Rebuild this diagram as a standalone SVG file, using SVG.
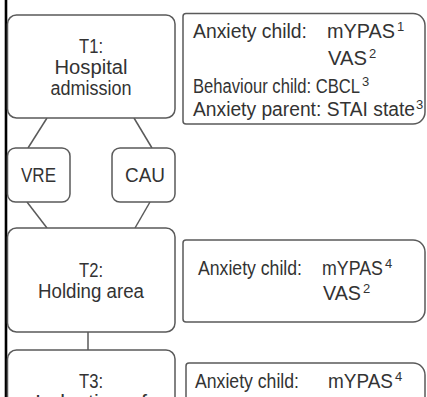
<svg xmlns="http://www.w3.org/2000/svg" width="427" height="397" viewBox="0 0 427 397">
<style>
.box{fill:#fff;stroke:#5a5a5a;stroke-width:1.5}
.ln{stroke:#5a5a5a;stroke-width:1.5;fill:none}
text{font-family:"Liberation Sans",Arial,sans-serif;fill:#333;font-size:20px}
.c{text-anchor:middle}
.sup{font-size:13px}
</style>
<rect x="0" y="0" width="427" height="397" fill="#fff"/>
<line x1="6" y1="0" x2="6" y2="397" stroke="#000" stroke-width="2.6"/>
<g id="connectors">
<line class="ln" x1="47" y1="118" x2="28" y2="148"/>
<line class="ln" x1="134" y1="118" x2="152" y2="148"/>
<line class="ln" x1="27" y1="202" x2="47" y2="228"/>
<line class="ln" x1="150" y1="202" x2="135" y2="228"/>
<line class="ln" x1="88" y1="332" x2="88" y2="350"/>
</g>
<g id="t1">
<rect class="box" x="7.5" y="15" width="167.5" height="103" rx="9"/>
<text class="c" x="91" y="53" textLength="24" lengthAdjust="spacingAndGlyphs">T1:</text>
<text class="c" x="91" y="74" textLength="73" lengthAdjust="spacingAndGlyphs">Hospital</text>
<text class="c" x="91" y="95" textLength="81" lengthAdjust="spacingAndGlyphs">admission</text>
</g>
<g id="m1">
<path class="box" d="M186,13.5 H413 A12,12 0 0 1 425,25.5 V112 A12,12 0 0 1 413,124 H186 A3,3 0 0 1 183,121 V16.5 A3,3 0 0 1 186,13.5 Z"/>
<text x="193" y="38" textLength="114" lengthAdjust="spacingAndGlyphs">Anxiety child:</text>
<text x="327" y="38"><tspan textLength="68" lengthAdjust="spacingAndGlyphs">mYPAS</tspan><tspan class="sup" dx="2" dy="-7">1</tspan></text>
<text x="328" y="65"><tspan textLength="39" lengthAdjust="spacingAndGlyphs">VAS</tspan><tspan class="sup" dx="2" dy="-7">2</tspan></text>
<text x="193" y="93"><tspan textLength="167" lengthAdjust="spacingAndGlyphs">Behaviour child: CBCL</tspan><tspan class="sup" dx="2" dy="-7">3</tspan></text>
<text x="193" y="116"><tspan textLength="222" lengthAdjust="spacingAndGlyphs">Anxiety parent: STAI state</tspan><tspan class="sup" dx="1" dy="-7">3</tspan></text>
</g>
<g id="vre">
<rect class="box" x="7.5" y="148" width="62.5" height="54" rx="8"/>
<text class="c" x="38.5" y="182" textLength="35" lengthAdjust="spacingAndGlyphs">VRE</text>
</g>
<g id="cau">
<rect class="box" x="112" y="148" width="63" height="54" rx="8"/>
<text class="c" x="145" y="182" textLength="40" lengthAdjust="spacingAndGlyphs">CAU</text>
</g>
<g id="t2">
<rect class="box" x="7.5" y="228" width="167.5" height="104" rx="9"/>
<text class="c" x="91" y="277" textLength="24" lengthAdjust="spacingAndGlyphs">T2:</text>
<text class="c" x="91" y="298" textLength="106" lengthAdjust="spacingAndGlyphs">Holding area</text>
</g>
<g id="m2">
<path class="box" d="M186,240 H413 A12,12 0 0 1 425,252 V310 A12,12 0 0 1 413,322 H186 A3,3 0 0 1 183,319 V243 A3,3 0 0 1 186,240 Z"/>
<text x="198" y="275" textLength="104" lengthAdjust="spacingAndGlyphs">Anxiety child:</text>
<text x="322" y="275"><tspan textLength="61" lengthAdjust="spacingAndGlyphs">mYPAS</tspan><tspan class="sup" dx="2" dy="-7">4</tspan></text>
<text x="323" y="300"><tspan textLength="38" lengthAdjust="spacingAndGlyphs">VAS</tspan><tspan class="sup" dx="2" dy="-7">2</tspan></text>
</g>
<g id="t3">
<rect class="box" x="7.5" y="350" width="167.5" height="80" rx="9"/>
<text class="c" x="91" y="388" textLength="24" lengthAdjust="spacingAndGlyphs">T3:</text>
<text class="c" x="91" y="409" textLength="112" lengthAdjust="spacingAndGlyphs">Induction of</text>
</g>
<g id="m3">
<path class="box" d="M189,363 H413 A12,12 0 0 1 425,375 V430 H186 V366 A3,3 0 0 1 189,363 Z"/>
<text x="195" y="388" textLength="104" lengthAdjust="spacingAndGlyphs">Anxiety child:</text>
<text x="328" y="388"><tspan textLength="65" lengthAdjust="spacingAndGlyphs">mYPAS</tspan><tspan class="sup" dx="2" dy="-7">4</tspan></text>
</g>
</svg>
